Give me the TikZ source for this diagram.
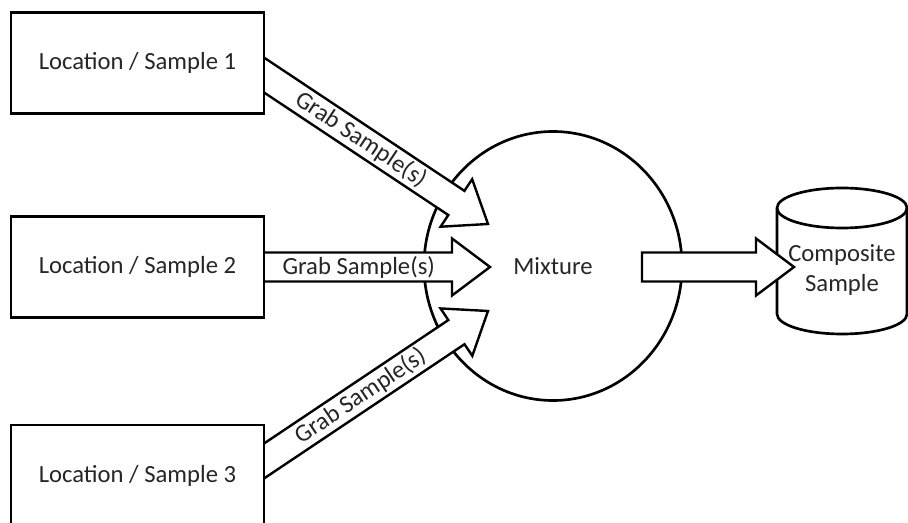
\documentclass[tikz,border=0pt]{standalone}
\usepackage{fontspec}
\setmainfont{Carlito}
\usetikzlibrary{shapes.geometric, calc, positioning}

\pgfdeclarelayer{back}
\pgfdeclarelayer{mid}
\pgfsetlayers{back,mid,main}

\newcommand{\shafthw}{10.9pt}
\newcommand{\headhw}{21.4pt}
\newcommand{\headlen}{28.5pt}

% block arrow: [hidden tail] {tail} {tip} {label}
\newcommand{\grabarrow}[4][0pt]{%
  \coordinate (ga-t) at ($(#2)!-#1!(#3)$);
  \coordinate (ga-h) at ($(#3)!\headlen!(#2)$);
  \draw[flow] ($(ga-t)!\shafthw!90:(#3)$) -- ($(ga-h)!\shafthw!90:(#3)$)
    -- ($(ga-h)!\headhw!90:(#3)$) -- (#3) -- ($(ga-h)!\headhw!-90:(#3)$)
    -- ($(ga-h)!\shafthw!-90:(#3)$) -- ($(ga-t)!\shafthw!-90:(#3)$) -- cycle;
  \path (#2) -- node[flowtext, sloped] {#4} (ga-h);
}

\begin{document}
\begin{tikzpicture}[
        x=0.75pt, y=-0.75pt,
        font=\fontsize{18.5pt}{22pt}\selectfont,
        every node/.style={text=black!85},
        box/.style={rectangle, draw=black, line width=2.2pt, fill=white, minimum width=189.75pt, minimum height=75.75pt},
        mixer/.style={ellipse, draw=black, line width=2pt, fill=white, minimum width=193.5pt, minimum height=201.75pt},
        store/.style={align=center, inner sep=0pt},
        tank/.style={draw=black, line width=2pt, fill=white},
        flow/.style={draw=black, line width=1.8pt, fill=white},
        flowtext/.style={inner sep=0pt}
    ]
        \useasboundingbox (0,0) rectangle (908,523);
        \clip (0,0) rectangle (908,523);

        \node [box] (loc1) at (137.5,63) {Location / Sample 1};
        \node [box] (loc2) at (137.5,267) {Location / Sample 2};
        \node [box] (loc3) at (137.5,475.5) {Location / Sample 3};

        \node [store] (comp) at (842,270) {Composite\\Sample};

        \begin{pgfonlayer}{back}
        \node [mixer] (mix) at (553,266) {Mixture};
        % tank outline round the composite label
        \draw [tank] ($(comp.center)+(-65,-62)$) -- ($(comp.center)+(-65,44)$)
            arc[start angle=180, end angle=360, x radius=48.75pt, y radius=15pt]
            -- ($(comp.center)+(65,-62)$)
            arc[start angle=0, end angle=180, x radius=48.75pt, y radius=15pt] -- cycle;
        \draw [tank, fill=none] ($(comp.center)+(-65,-62)$)
            arc[start angle=180, end angle=360, x radius=48.75pt, y radius=15pt];
        \end{pgfonlayer}

        \coordinate (a1) at ([yshift=-9.75pt]loc1.east);
        \coordinate (a3) at ([yshift=11.6pt]loc3.east);
        \coordinate (m1) at ($(mix.center)+(-65,-42)$);
        \coordinate (m2) at ($(mix.center)+(-63,1)$);
        \coordinate (m3) at ($(mix.center)+(-65,45)$);
        \coordinate (b4) at ($(mix.center)+(89,1)$);
        \coordinate (s4) at ($(comp.center)+(-48,-3)$);

        \begin{pgfonlayer}{mid}
        \grabarrow[15pt]{a1}{m1}{Grab Sample(s)}
        \grabarrow[15pt]{loc2.east}{m2}{Grab Sample(s)}
        \grabarrow[15pt]{a3}{m3}{Grab Sample(s)}
        \grabarrow{b4}{s4}{}
        \end{pgfonlayer}
    \end{tikzpicture}
\end{document}
